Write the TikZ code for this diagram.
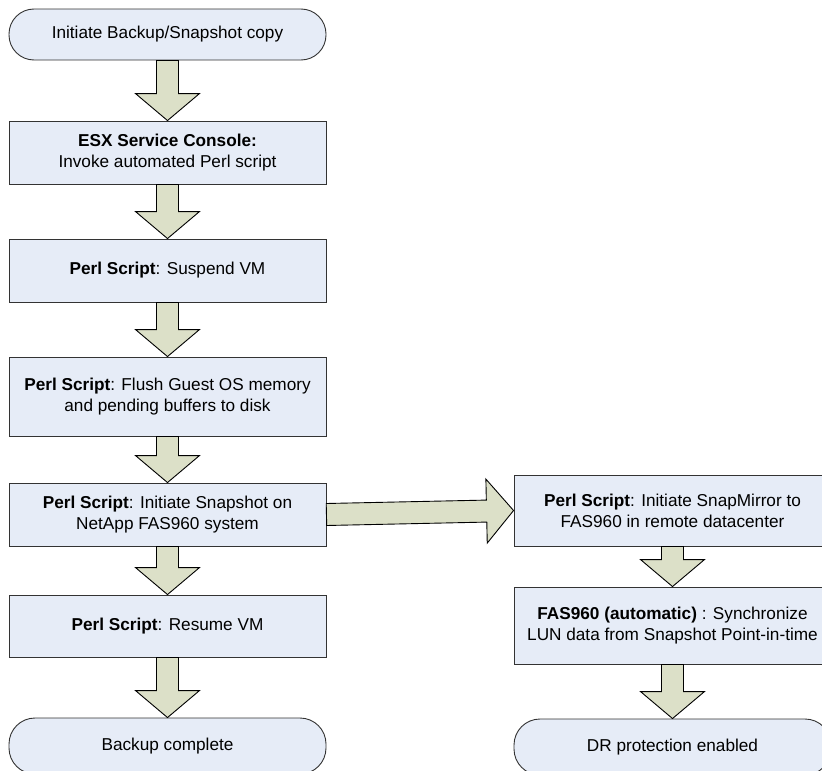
\documentclass[tikz,border=0pt]{standalone}
\usepackage{fontspec}
\setmainfont{Liberation Sans}
\usepackage{tikz}
\usetikzlibrary{calc}
\definecolor{boxfill}{RGB}{230,236,247}
\definecolor{arrowfill}{RGB}{220,224,200}
\tikzstyle{process} = [rectangle, minimum width=317pt, minimum height=63pt, inner sep=0pt,
text centered, align=center, draw=black!80, fill=boxfill, line width=0.9pt,
font=\fontsize{17.2}{21}\selectfont]
\tikzstyle{terminal} = [process, rounded corners=26pt, minimum height=56pt]
\tikzstyle{fatarrow} = [draw=black, fill=arrowfill, line width=0.9pt, line join=miter]
\newcommand{\bigarrow}[2]{%
\path ($(#2)!27pt!(#1)$) coordinate (hb);
\draw[fatarrow] ($(#1)!11pt!90:(#2)$) -- ($(hb)!11pt!90:(#2)$) -- ($(hb)!32pt!90:(#2)$) -- (#2)
 -- ($(hb)!32pt!-90:(#2)$) -- ($(hb)!11pt!-90:(#2)$) -- ($(#1)!11pt!-90:(#2)$) -- cycle;}

\begin{document}
\begin{tikzpicture}[x=1pt, y=-1pt]
\useasboundingbox (0,0) rectangle (822,771);
\node (start) at (167.5,34.5) [terminal, minimum height=51pt, rounded corners=25pt] {Initiate Backup/Snapshot copy};
\node (esx) at (167.5,152.5) [process] {\textbf{ESX Service Console:}\\Invoke automated Perl script};
\node (suspend) at (167.5,270.5) [process] {\textbf{Perl Script}: Suspend VM};
\node (flush) at (167.5,396.5) [process, minimum height=79pt] {\textbf{Perl Script}: Flush Guest OS memory\\and pending buffers to disk};
\node (snap) at (167.5,514.5) [process] {\textbf{Perl Script}: Initiate Snapshot on\\NetApp FAS960 system};
\node (resume) at (167.5,626) [process, minimum height=62pt] {\textbf{Perl Script}: Resume VM};
\node (done) at (167.5,746) [terminal] {Backup complete};
\node (mirror) at (672.5,510.5) [process, minimum height=71pt] {\textbf{Perl Script}: Initiate SnapMirror to\\FAS960 in remote datacenter};
\node (sync) at (672.5,625.5) [process, minimum height=77pt] {\textbf{FAS960 (automatic)} : Synchronize\\LUN data from Snapshot Point-in-time};
\node (dr) at (672.5,747) [terminal] {DR protection enabled};
\bigarrow{start.south}{esx.north}
\bigarrow{esx.south}{suspend.north}
\bigarrow{suspend.south}{flush.north}
\bigarrow{flush.south}{snap.north}
\bigarrow{snap.south}{resume.north}
\bigarrow{resume.south}{done.north}
\bigarrow{snap.east}{mirror.west}
\bigarrow{mirror.south}{sync.north}
\bigarrow{sync.south}{dr.north}
\end{tikzpicture}
\end{document}
